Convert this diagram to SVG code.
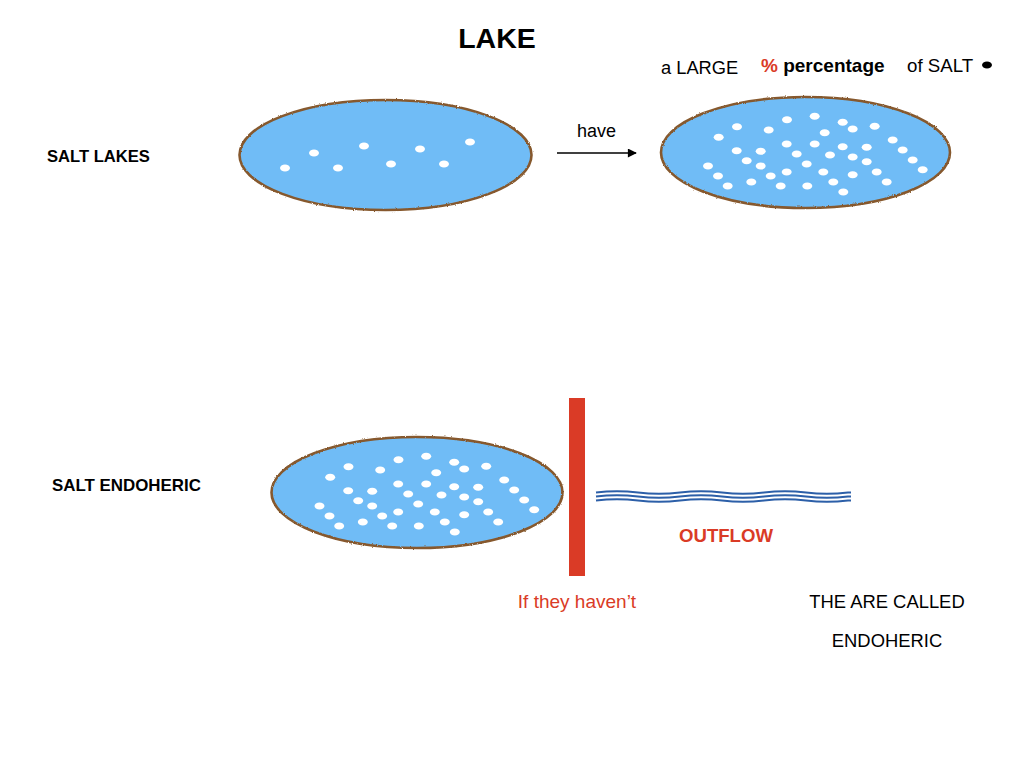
<svg xmlns="http://www.w3.org/2000/svg" xmlns:xlink="http://www.w3.org/1999/xlink" width="1024" height="768" viewBox="0 0 1024 768">
  <style>
    .lake { fill: #70BCF6; }
    .shore { fill: none; stroke: #86592D; stroke-width: 2.6; }
    .dot { fill: #FFFFFF; }
    .t { font-family: "Liberation Sans", Arial, sans-serif; fill: #000; }
    .b { font-weight: bold; }
    .red { fill: #DA3B26; }
    .wave { fill: none; stroke: #2C5FA8; stroke-width: 2; }
    .conn { stroke: #000; stroke-width: 1.5; fill: none; }
  </style>
  <defs>
    <filter id="rough" x="-5%" y="-10%" width="110%" height="120%">
      <feTurbulence type="fractalNoise" baseFrequency="0.9" numOctaves="2" seed="3" result="n"/>
      <feDisplacementMap in="SourceGraphic" in2="n" scale="2.2" xChannelSelector="R" yChannelSelector="G"/>
    </filter>
    <marker id="arrow" viewBox="0 0 10 10" refX="9" refY="5" markerWidth="10" markerHeight="9" orient="auto" markerUnits="userSpaceOnUse">
      <path d="M0,0 L10,5 L0,10 z" fill="#000"/>
    </marker>
    <g id="manyDots">
      <ellipse class="dot" cx="718.7" cy="137.3" rx="5" ry="3.5"/>
      <ellipse class="dot" cx="737" cy="126.7" rx="5" ry="3.5"/>
      <ellipse class="dot" cx="768.7" cy="130" rx="5" ry="3.5"/>
      <ellipse class="dot" cx="787" cy="119.7" rx="5" ry="3.5"/>
      <ellipse class="dot" cx="814.7" cy="116.3" rx="5" ry="3.5"/>
      <ellipse class="dot" cx="842.7" cy="122.3" rx="5" ry="3.5"/>
      <ellipse class="dot" cx="852.7" cy="129" rx="5" ry="3.5"/>
      <ellipse class="dot" cx="874.7" cy="126.3" rx="5" ry="3.5"/>
      <ellipse class="dot" cx="824.7" cy="132.7" rx="5" ry="3.5"/>
      <ellipse class="dot" cx="892.7" cy="140" rx="5" ry="3.5"/>
      <ellipse class="dot" cx="902.7" cy="150" rx="5" ry="3.5"/>
      <ellipse class="dot" cx="912.7" cy="160" rx="5" ry="3.5"/>
      <ellipse class="dot" cx="922.7" cy="169.7" rx="5" ry="3.5"/>
      <ellipse class="dot" cx="736.7" cy="150.7" rx="5" ry="3.5"/>
      <ellipse class="dot" cx="760.7" cy="151.3" rx="5" ry="3.5"/>
      <ellipse class="dot" cx="786.7" cy="144" rx="5" ry="3.5"/>
      <ellipse class="dot" cx="814.7" cy="144" rx="5" ry="3.5"/>
      <ellipse class="dot" cx="842.7" cy="146.7" rx="5" ry="3.5"/>
      <ellipse class="dot" cx="866.7" cy="147.3" rx="5" ry="3.5"/>
      <ellipse class="dot" cx="746.7" cy="160.7" rx="5" ry="3.5"/>
      <ellipse class="dot" cx="760.7" cy="166" rx="5" ry="3.5"/>
      <ellipse class="dot" cx="796.7" cy="154" rx="5" ry="3.5"/>
      <ellipse class="dot" cx="830" cy="155" rx="5" ry="3.5"/>
      <ellipse class="dot" cx="852.7" cy="157" rx="5" ry="3.5"/>
      <ellipse class="dot" cx="866.7" cy="161.7" rx="5" ry="3.5"/>
      <ellipse class="dot" cx="708" cy="166" rx="5" ry="3.5"/>
      <ellipse class="dot" cx="718" cy="176" rx="5" ry="3.5"/>
      <ellipse class="dot" cx="727.7" cy="186" rx="5" ry="3.5"/>
      <ellipse class="dot" cx="751.3" cy="182" rx="5" ry="3.5"/>
      <ellipse class="dot" cx="770.7" cy="176" rx="5" ry="3.5"/>
      <ellipse class="dot" cx="786.7" cy="172" rx="5" ry="3.5"/>
      <ellipse class="dot" cx="806.7" cy="164" rx="5" ry="3.5"/>
      <ellipse class="dot" cx="823.3" cy="172" rx="5" ry="3.5"/>
      <ellipse class="dot" cx="852.7" cy="174.7" rx="5" ry="3.5"/>
      <ellipse class="dot" cx="876.7" cy="172" rx="5" ry="3.5"/>
      <ellipse class="dot" cx="780.7" cy="186" rx="5" ry="3.5"/>
      <ellipse class="dot" cx="807.3" cy="186" rx="5" ry="3.5"/>
      <ellipse class="dot" cx="833.3" cy="182" rx="5" ry="3.5"/>
      <ellipse class="dot" cx="886.7" cy="182" rx="5" ry="3.5"/>
      <ellipse class="dot" cx="843.3" cy="192" rx="5" ry="3.5"/>
    </g>
  </defs>

  <rect width="1024" height="768" fill="#FFFFFF"/>

  <g id="title">
    <text class="t b" x="497" y="48" font-size="28.5" text-anchor="middle">LAKE</text>
  </g>

  <g id="label-salt-lakes">
    <text class="t b" x="47" y="162" font-size="16.6">SALT LAKES</text>
  </g>

  <g id="lake-few-salt">
    <ellipse class="lake" cx="385.5" cy="155" rx="146" ry="55"/>
    <ellipse class="shore" cx="385.5" cy="155" rx="146" ry="55" filter="url(#rough)"/>
    <ellipse class="dot" cx="285" cy="168" rx="5" ry="3.5"/>
    <ellipse class="dot" cx="314" cy="153" rx="5" ry="3.5"/>
    <ellipse class="dot" cx="338" cy="168" rx="5" ry="3.5"/>
    <ellipse class="dot" cx="364" cy="146" rx="5" ry="3.5"/>
    <ellipse class="dot" cx="391" cy="164" rx="5" ry="3.5"/>
    <ellipse class="dot" cx="420" cy="149" rx="5" ry="3.5"/>
    <ellipse class="dot" cx="444" cy="164" rx="5" ry="3.5"/>
    <ellipse class="dot" cx="470" cy="142" rx="5" ry="3.5"/>
  </g>

  <g id="lake-much-salt">
    <ellipse class="lake" cx="805.5" cy="152.5" rx="144.5" ry="55.5"/>
    <ellipse class="shore" cx="805.5" cy="152.5" rx="144.5" ry="55.5" filter="url(#rough)"/>
    <use xlink:href="#manyDots" href="#manyDots"/>
  </g>

  <g id="label-large-percentage">
    <text class="t" x="661" y="74" font-size="18.3">a LARGE</text>
    <text class="t b" x="761" y="72" font-size="19"><tspan class="red">%</tspan> percentage</text>
    <text class="t" x="907" y="72" font-size="18.7">of SALT</text>
    <ellipse cx="987" cy="65" rx="5" ry="3.5" fill="#000"/>
  </g>

  <g id="connectors">
    <text class="t" x="596.5" y="137" font-size="18" text-anchor="middle">have</text>
    <line class="conn" x1="557" y1="153" x2="636" y2="153" marker-end="url(#arrow)"/>
  </g>

  <g id="label-salt-endoheric">
    <text class="t b" x="52" y="491" font-size="16.9">SALT ENDOHERIC</text>
  </g>

  <g id="lake-endoheric">
    <ellipse class="lake" cx="417" cy="492.5" rx="145.5" ry="55.5"/>
    <ellipse class="shore" cx="417" cy="492.5" rx="145.5" ry="55.5" filter="url(#rough)"/>
    <use xlink:href="#manyDots" href="#manyDots" transform="translate(-388.5,340)"/>
  </g>

  <g id="barrier">
    <rect x="569" y="398" width="16" height="178" fill="#DA3B26"/>
    <text class="t red" x="577" y="608" font-size="19" text-anchor="middle">If they haven’t</text>
  </g>

  <g id="outflow">
    <path class="wave" d="M596,492.5 q21,-2.5 42,0 t42,0 t42,0 t42,0 t42,0 t42,0 l3,0"/>
    <path class="wave" d="M596,496.5 q21,-2.5 42,0 t42,0 t42,0 t42,0 t42,0 t42,0 l3,0"/>
    <path class="wave" d="M596,500.5 q21,-2.5 42,0 t42,0 t42,0 t42,0 t42,0 t42,0 l3,0"/>
    <text class="t b red" x="726" y="542" font-size="18.6" text-anchor="middle">OUTFLOW</text>
  </g>

  <g id="label-called">
    <text class="t" x="887" y="608" font-size="18.4" text-anchor="middle">THE ARE CALLED</text>
    <text class="t" x="887" y="647" font-size="18.4" text-anchor="middle">ENDOHERIC</text>
  </g>
</svg>
